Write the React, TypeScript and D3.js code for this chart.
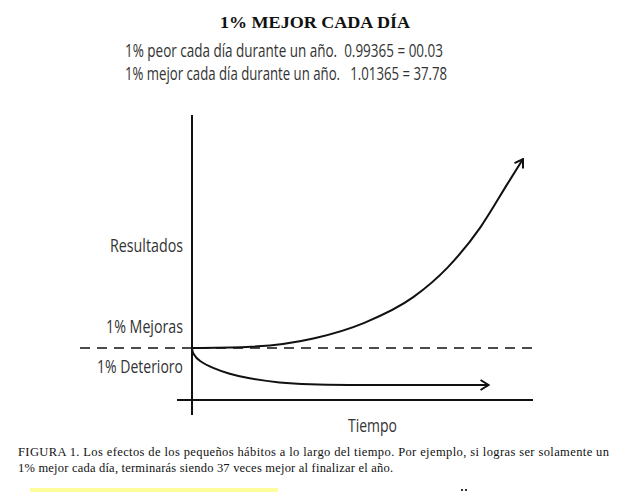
import * as d3 from "d3";
import React, { useRef, useEffect } from "react";

const mainWidth = 639;
const mainHeight = 492;

// curve values (days vs. result index, 1 = starting point)
const days = [0, 60, 135, 190, 244, 282, 318, 348, 365];
const mejora = [1, 1.2, 2.9, 5.9, 10.9, 16.7, 24.5, 33.0, 37.8];

const daysDet = [0, 1, 8, 23, 40, 61, 97, 130, 165, 250, 327];
const deterioro = [1, -0.2, -1.6, -2.9, -4.0, -4.9, -5.8, -6.1, -6.2, -6.2, -6.2];

const title = "1% MEJOR CADA DÍA";
const formulas = [
  "1% peor cada día durante un año.  0.99365 = 00.03",
  "1% mejor cada día durante un año.   1.01365 = 37.78",
];
const caption = [
  "FIGURA 1. Los efectos de los pequeños hábitos a lo largo del tiempo. Por ejemplo, si logras ser solamente un",
  "1% mejor cada día, terminarás siendo 37 veces mejor al finalizar el año.",
];

const origin = { x: 192, y: 348 };

function App() {
  const ref = useRef(null);

  useEffect(() => {
    const svg = d3.select(ref.current);
    svg.selectAll("*").remove();
    svg.attr("width", mainWidth).attr("height", mainHeight);

    const xScale = d3.scaleLinear().domain([0, 365]).range([origin.x, 523]);
    const yScale = d3.scaleLinear().domain([1, 37.8]).range([origin.y, 159]);

    // arrow marker
    svg
      .append("defs")
      .append("marker")
      .attr("id", "chev")
      .attr("viewBox", "0 0 10 12")
      .attr("refX", 9)
      .attr("refY", 6)
      .attr("markerWidth", 10)
      .attr("markerHeight", 12)
      .attr("markerUnits", "userSpaceOnUse")
      .attr("orient", "auto")
      .append("path")
      .attr("d", "M1,1 L9,6 L1,11")
      .attr("fill", "none")
      .attr("stroke", "#111")
      .attr("stroke-width", 2);

    // title
    svg
      .append("text")
      .attr("x", 220)
      .attr("y", 28)
      .attr("font-family", "Liberation Serif, Times New Roman, serif")
      .attr("font-size", 17)
      .attr("font-weight", "bold")
      .attr("textLength", 190)
      .attr("lengthAdjust", "spacingAndGlyphs")
      .attr("fill", "#111")
      .text(title);

    svg
      .selectAll(".formula")
      .data(formulas)
      .join("text")
      .attr("class", "formula")
      .attr("x", 125)
      .attr("y", (_, i) => 57 + i * 23)
      .attr("font-family", "Open Sans, sans-serif")
      .attr("font-size", 18)
      .attr("textLength", (_, i) => (i === 0 ? 318 : 322))
      .attr("lengthAdjust", "spacingAndGlyphs")
      .style("white-space", "pre")
      .attr("fill", "#333")
      .text((d) => d);

    const g = svg.append("g").attr("class", "plot");

    // axes
    g.append("line")
      .attr("x1", origin.x)
      .attr("x2", origin.x)
      .attr("y1", 115)
      .attr("y2", 415)
      .attr("stroke", "#111")
      .attr("stroke-width", 2);
    g.append("line")
      .attr("x1", 177)
      .attr("x2", 533)
      .attr("y1", 400)
      .attr("y2", 400)
      .attr("stroke", "#111")
      .attr("stroke-width", 2);

    // dashed baseline
    g.append("line")
      .attr("x1", 80)
      .attr("x2", 536)
      .attr("y1", yScale(1))
      .attr("y2", yScale(1))
      .attr("stroke", "#111")
      .attr("stroke-width", 1.6)
      .attr("stroke-dasharray", "10,7");

    const line = d3
      .line()
      .x((d) => xScale(d[0]))
      .y((d) => yScale(d[1]))
      .curve(d3.curveMonotoneX);

    g.append("path")
      .datum(days.map((d, i) => [d, mejora[i]]))
      .attr("d", line)
      .attr("fill", "none")
      .attr("stroke", "#111")
      .attr("stroke-width", 2)
      .attr("marker-end", "url(#chev)");

    // decay curve, smoothed
    g.append("path")
      .datum(daysDet.map((d, i) => [d, deterioro[i]]))
      .attr("d", line.curve(d3.curveBasis))
      .attr("fill", "none")
      .attr("stroke", "#111")
      .attr("stroke-width", 2)
      .attr("marker-end", "url(#chev)");

    // axis labels
    const labels = [
      { t: "Resultados", y: 252, w: 73 },
      { t: "1% Mejoras", y: 333, w: 77 },
      { t: "1% Deterioro", y: 373, w: 86 },
    ];
    g.selectAll(".lab")
      .data(labels)
      .join("text")
      .attr("class", "lab")
      .attr("x", (d) => 183 - d.w)
      .attr("y", (d) => d.y)
      .attr("font-family", "Open Sans, sans-serif")
      .attr("font-size", 18)
      .attr("textLength", (d) => d.w)
      .attr("lengthAdjust", "spacingAndGlyphs")
      .attr("fill", "#333")
      .text((d) => d.t);

    g.append("text")
      .attr("x", 348)
      .attr("y", 432)
      .attr("font-family", "Open Sans, sans-serif")
      .attr("font-size", 18)
      .attr("textLength", 49)
      .attr("lengthAdjust", "spacingAndGlyphs")
      .attr("fill", "#333")
      .text("Tiempo");

    // caption
    svg
      .selectAll(".cap")
      .data(caption)
      .join("text")
      .attr("class", "cap")
      .attr("x", 18)
      .attr("y", (_, i) => 456 + i * 15.5)
      .attr("font-family", "Liberation Serif, Times New Roman, serif")
      .attr("font-size", 12.5)
      .attr("textLength", (_, i) => (i === 0 ? 591 : 375))
      .attr("lengthAdjust", "spacing")
      .attr("fill", "#111")
      .text((d) => d);

    // yellow highlight at the bottom edge
    svg
      .append("rect")
      .attr("x", 30)
      .attr("y", 488)
      .attr("width", 248)
      .attr("height", 4)
      .attr("fill", "#fdfd9c");

    // tiny cut-off mark at the bottom edge
    svg
      .selectAll(".dot")
      .data([461, 465])
      .join("rect")
      .attr("class", "dot")
      .attr("x", (d) => d)
      .attr("y", 489)
      .attr("width", 2)
      .attr("height", 2)
      .attr("fill", "#333");
  }, []);

  return (
    <svg
      ref={ref}
      style={{ position: "absolute", left: 0, top: 0, background: "#fff" }}
    ></svg>
  );
}

export default App;
